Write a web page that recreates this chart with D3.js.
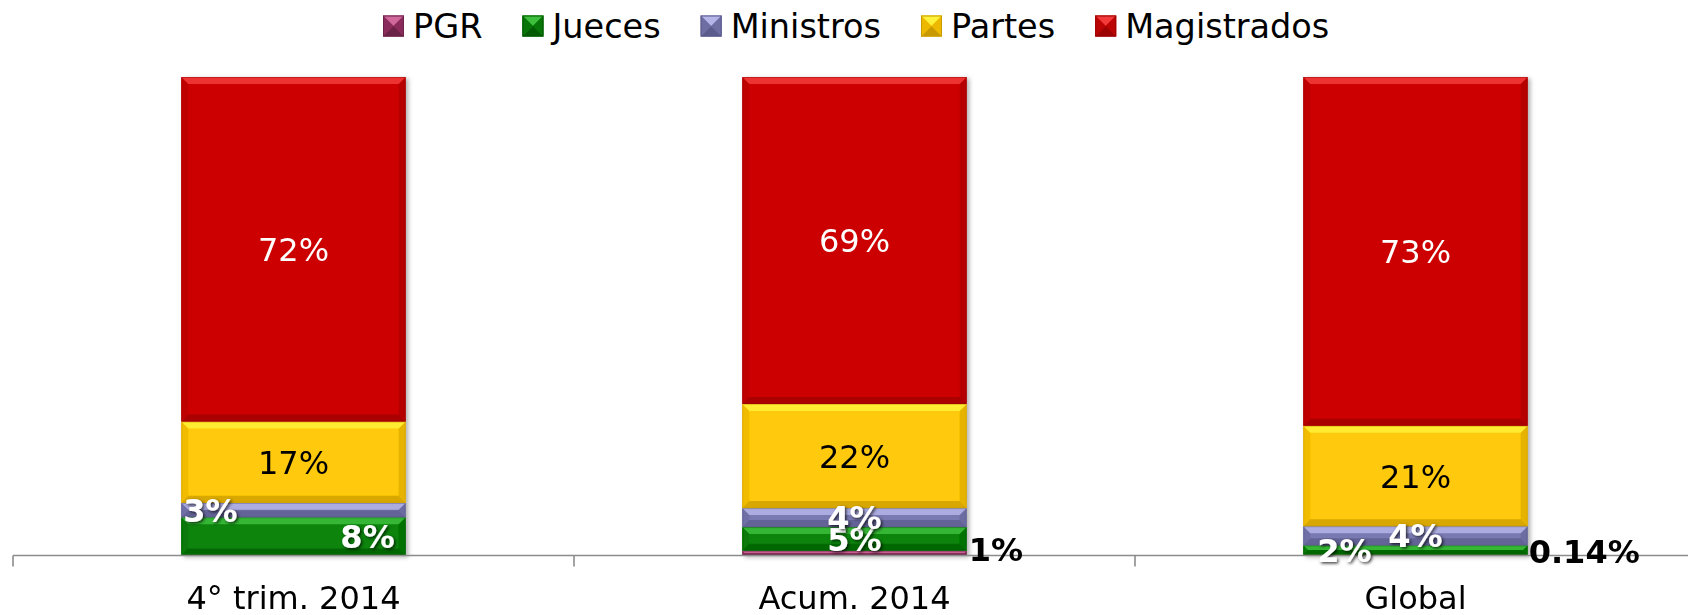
<!DOCTYPE html>
<html>
<head>
<meta charset="utf-8">
<script src="https://cdn.jsdelivr.net/npm/d3@7"></script>
<style>
  html, body { margin: 0; padding: 0; background: #ffffff; }
  svg { display: block; font-family: "DejaVu Sans", Verdana, sans-serif; }
</style>
</head>
<body>
<svg id="chart" width="1688" height="615"></svg>
<script>
// ---- data ----
const categories = ["4° trim. 2014", "Acum. 2014", "Global"];
const seriesNames = ["PGR", "Jueces", "Ministros", "Partes", "Magistrados"];
const pgr = [0, 1, 0.14];
const jueces = [8, 5, 2];
const ministros = [3, 4, 4];
const partes = [17, 22, 21];
const magistrados = [72, 69, 73];

// ---- styling ----
const palette = {
  PGR:         { base: "#993366", light: "#D0689C", dark: "#6A2246", side: "#8A2C5B" },
  Jueces:      { base: "#088508", light: "#3DBF3D", dark: "#055A05", side: "#077507" },
  Ministros:   { base: "#7A7AB2", light: "#B5B5E8", dark: "#5B5B8C", side: "#6E6EA3" },
  Partes:      { base: "#FFC907", light: "#FFF23A", dark: "#C89A00", side: "#EDB800" },
  Magistrados: { base: "#CC0606", light: "#F23A3A", dark: "#9C0404", side: "#BB0505" }
};
const labelStyle = {
  PGR:         { fill: "#000", weight: "bold", shadow: false },
  Jueces:      { fill: "#fff", weight: "bold", shadow: true },
  Ministros:   { fill: "#fff", weight: "bold", shadow: true },
  Partes:      { fill: "#000", weight: "normal", shadow: false },
  Magistrados: { fill: "#fff", weight: "normal", shadow: false }
};
// horizontal placement of each label within its bar: [anchor, dx]
const labelPlacement = {
  PGR:         [["outside", 2], ["outside", 2], ["outside", 1]],
  Jueces:      [["end", -11], ["middle", 0], ["start", 14]],
  Ministros:   [["start", 2], ["middle", 0], ["middle", 0]],
  Partes:      [["middle", 0], ["middle", 0], ["middle", 0]],
  Magistrados: [["middle", 0], ["middle", 0], ["middle", 0]]
};

const svg = d3.select("#chart");
const axisY = 555.5, topY = 77;

const defs = svg.append("defs");
const ds = defs.append("filter").attr("id", "labelShadow")
  .attr("x", "-30%").attr("y", "-30%").attr("width", "160%").attr("height", "160%");
ds.append("feDropShadow").attr("dx", 1.5).attr("dy", 1.5).attr("stdDeviation", 1.5)
  .attr("flood-color", "#000").attr("flood-opacity", 0.75);
const bs = defs.append("filter").attr("id", "barShadow")
  .attr("x", "-5%").attr("y", "-5%").attr("width", "115%").attr("height", "115%");
bs.append("feDropShadow").attr("dx", 2.5).attr("dy", 1.5).attr("stdDeviation", 2)
  .attr("flood-color", "#000").attr("flood-opacity", 0.3);

// ---- table & stack ----
const valuesBySeries = { PGR: pgr, Jueces: jueces, Ministros: ministros, Partes: partes, Magistrados: magistrados };
const table = categories.map((c, i) => {
  const row = { category: c };
  seriesNames.forEach(s => row[s] = valuesBySeries[s][i]);
  return row;
});
const stacked = d3.stack().keys(seriesNames).offset(d3.stackOffsetExpand)(table);

// ---- scales ----
const x = d3.scaleBand().domain(categories).range([13, 1696])
  .paddingInner(0.6).paddingOuter(0.3);
const y = d3.scaleLinear().domain([0, 1]).range([axisY, topY]);

// ---- bevelled segment ----
function bevelRect(g, x0, y0, w, h, col) {
  const b = Math.max(0, Math.min(7, h / 2, w / 2));
  const x1 = x0 + w, y1 = y0 + h;
  g.append("rect").attr("x", x0).attr("y", y0).attr("width", w).attr("height", h).attr("fill", col.base);
  const poly = (pts, fill, op) => g.append("polygon")
    .attr("points", pts.map(p => p.join(",")).join(" ")).attr("fill", fill).attr("opacity", op);
  poly([[x0, y0], [x0 + b, y0 + b], [x0 + b, y1 - b], [x0, y1]], col.side, 0.8);
  poly([[x1, y0], [x1 - b, y0 + b], [x1 - b, y1 - b], [x1, y1]], col.dark, 0.45);
  poly([[x0, y0], [x1, y0], [x1 - b, y0 + b], [x0 + b, y0 + b]], col.light, 0.85);
  poly([[x0, y1], [x1, y1], [x1 - b, y1 - b], [x0 + b, y1 - b]], col.dark, 0.7);
  g.append("rect").attr("x", x0 + 0.5).attr("y", y0 + 0.5).attr("width", Math.max(0, w - 1)).attr("height", Math.max(0, h - 1))
    .attr("fill", "none").attr("stroke", col.dark).attr("stroke-opacity", 0.5).attr("stroke-width", 1);
}

// ---- bars ----
const barsG = svg.append("g").attr("filter", "url(#barShadow)");
stacked.forEach(layer => {
  const col = palette[layer.key];
  layer.forEach((d, i) => {
    const y0 = y(d[1]), y1 = y(d[0]);
    if (y1 - y0 <= 0) return;
    bevelRect(barsG, x(categories[i]), y0, x.bandwidth(), y1 - y0, col);
  });
});

// ---- axis ----
const axisG = svg.append("g").attr("transform", `translate(0,${axisY})`);
const gap = x.step() - x.bandwidth();
const bounds = categories.map(c => x(c) - gap / 2).concat([x(categories[categories.length - 1]) + x.bandwidth() + gap / 2]);
axisG.append("line").attr("x1", bounds[0]).attr("x2", bounds[bounds.length - 1])
  .attr("y1", 0).attr("y2", 0).attr("stroke", "#8c8c8c").attr("stroke-width", 1.6);
axisG.selectAll("line.tick").data(bounds).join("line").attr("class", "tick")
  .attr("x1", d => d).attr("x2", d => d).attr("y1", 0).attr("y2", 11)
  .attr("stroke", "#8c8c8c").attr("stroke-width", 1.6);

const labelAxis = svg.append("g").attr("transform", `translate(0,${axisY})`)
  .call(d3.axisBottom(x).tickSize(0).tickPadding(0));
labelAxis.select(".domain").remove();
labelAxis.selectAll("text")
  .attr("y", 609 - axisY).attr("dy", 0)
  .attr("font-family", "DejaVu Sans, Verdana, sans-serif")
  .attr("font-size", 32).attr("fill", "#000");

// ---- data labels ----
const fmt = v => (Number.isInteger(v) ? v : v.toString()) + "%";
const labelsG = svg.append("g").attr("font-size", 32);
stacked.forEach(layer => {
  const key = layer.key, st = labelStyle[key];
  layer.forEach((d, i) => {
    const v = valuesBySeries[key][i];
    if (!v) return;
    const [anchor, dx] = labelPlacement[key][i];
    const bx = x(categories[i]), bw = x.bandwidth();
    let cy = (y(d[0]) + y(d[1])) / 2;
    let tx, ta;
    if (anchor === "outside") { tx = bx + bw + dx; ta = "start"; cy -= 4; }
    else if (anchor === "start") { tx = bx + dx; ta = "start"; }
    else if (anchor === "end") { tx = bx + bw + dx; ta = "end"; }
    else { tx = bx + bw / 2 + dx; ta = "middle"; }
    const t = labelsG.append("text")
      .attr("x", tx).attr("y", cy + 11.6)
      .attr("text-anchor", ta)
      .attr("font-weight", st.weight)
      .attr("fill", st.fill)
      .text(fmt(v));
    if (st.shadow) t.attr("filter", "url(#labelShadow)");
  });
});

// ---- legend ----
const legendG = svg.append("g").attr("font-size", 33.5);
let lx = 383;
seriesNames.forEach(name => {
  const col = palette[name];
  const m = legendG.append("g").attr("transform", `translate(${lx},15.5)`);
  const s = 21, c = s / 2;
  m.append("rect").attr("width", s).attr("height", s).attr("fill", col.base);
  m.append("polygon").attr("points", `0,0 ${s},0 ${c},${c}`).attr("fill", col.light);
  m.append("polygon").attr("points", `0,${s} ${s},${s} ${c},${c}`).attr("fill", col.dark);
  m.append("polygon").attr("points", `0,0 0,${s} ${c},${c}`).attr("fill", col.side);
  m.append("polygon").attr("points", `${s},0 ${s},${s} ${c},${c}`).attr("fill", col.side);
  m.append("rect").attr("x", 0.5).attr("y", 0.5).attr("width", s - 1).attr("height", s - 1)
    .attr("fill", "none").attr("stroke", col.dark).attr("stroke-width", 1);
  const t = legendG.append("text").attr("x", lx + s + 9).attr("y", 37.5).attr("fill", "#000").text(name);
  lx = lx + s + 9 + t.node().getComputedTextLength() + 40;
});
</script>
</body>
</html>
